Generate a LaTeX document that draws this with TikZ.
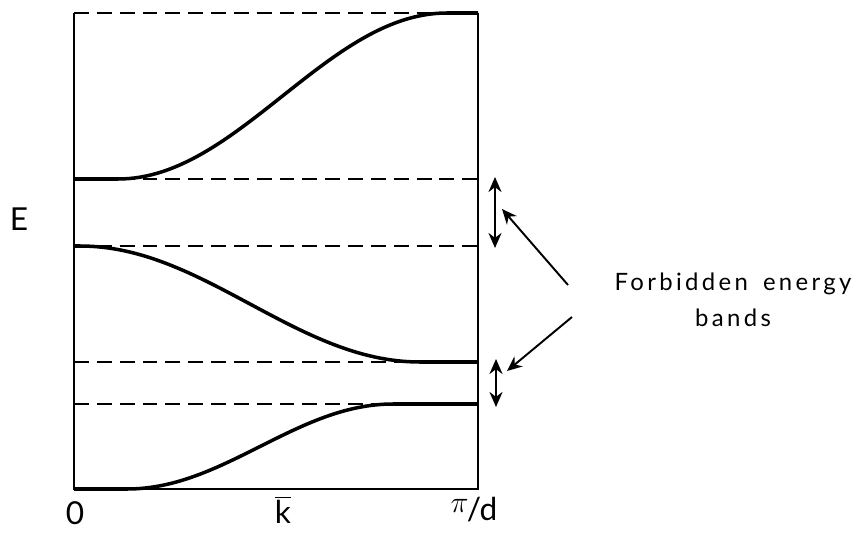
\documentclass[tikz,border=0pt]{standalone}
\usepackage{fontspec}
\setmainfont{Lato}
\newfontfamily\spacedfont[LetterSpace=14, WordSpace=1.6]{Lato}
\usetikzlibrary{arrows.meta}

\begin{document}
\begin{tikzpicture}[x=0.02cm, y=-0.02cm,
  frame/.style={line width=1.4pt},
  level/.style={line width=1.3pt, dash pattern=on 8.5pt off 4.5pt},
  band/.style={line width=2pt, line join=round},
  gaparrow/.style={{Stealth[length=3mm, width=2.6mm]}-{Stealth[length=3mm, width=2.6mm]}, line width=1.5pt},
  pointer/.style={-{Stealth[length=3mm, width=2.6mm]}, line width=1.1pt}]
  \useasboundingbox (0,0) rectangle (866,541);
  % box and level lines
  \draw[frame] (74,13) -- (74,489) -- (478,489) -- (478,13);
  \foreach \y in {13,179,246,362,404}
    \draw[level] (74,\y) -- (478,\y);
  % allowed bands
  \draw[band] (74,179) -- plot[domain=118:447, samples=60] (\x,{96+83*cos((\x-118)/329*180)}) -- (478,13);
  \draw[band] (74,246) -- plot[domain=80:420, samples=60] (\x,{304-58*cos((\x-80)/340*180)}) -- (478,362);
  \draw[band] (74,489) -- plot[domain=127:393, samples=60] (\x,{446.5+42.5*cos((\x-127)/266*180)}) -- (478,404);
  % labels
  \node[font=\fontsize{18}{20}\selectfont] (E) at (19,219) {E};
  \node[font=\fontsize{18}{20}\selectfont] (zero) at (75,513) {0};
  \node[font=\fontsize{18}{20}\selectfont] (kbar) at (283,510) {$\overline{\mbox{k}}$};
  \node[font=\fontsize{18}{20}\selectfont] (pid) at (474,510) {\raisebox{0.5ex}{$\pi$}\kern-1pt/d};
  \node[align=center, font=\fontsize{13.6}{20.4}\selectfont\spacedfont] (forbid) at (733,300)
    {Forbidden energy\\bands};
  % gap arrows
  \coordinate (gapAtop) at (495,177);
  \coordinate (gapAbot) at (495,248);
  \coordinate (gapBtop) at (496,359);
  \coordinate (gapBbot) at (496,407);
  \draw[gaparrow] (gapAtop) -- (gapAbot);
  \draw[gaparrow] (gapBtop) -- (gapBbot);
  % pointers
  \coordinate (ptrA) at (568,285);
  \coordinate (ptrAtip) at (502,209);
  \coordinate (ptrB) at (572,317);
  \coordinate (ptrBtip) at (507,371);
  \draw[pointer] (ptrA) -- (ptrAtip);
  \draw[pointer] (ptrB) -- (ptrBtip);
\end{tikzpicture}
\end{document}
